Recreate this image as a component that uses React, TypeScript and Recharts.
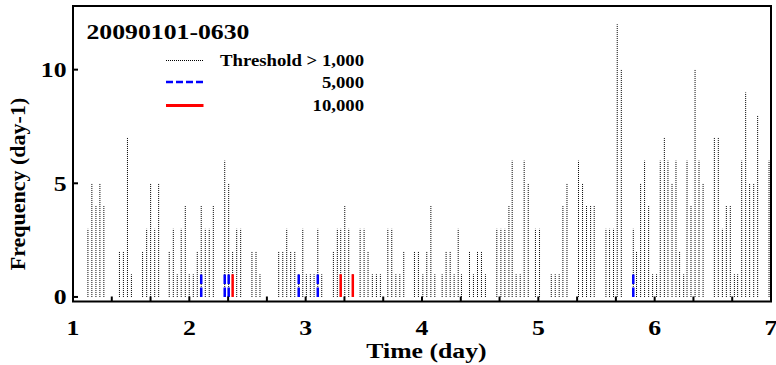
import React from "react";
import { ComposedChart, Bar, XAxis, YAxis, ReferenceArea } from "recharts";

// event times (day) and daily frequency above each threshold
const times1000 = [
  1.125, 1.159, 1.194, 1.228, 1.262,
  1.396, 1.43, 1.465, 1.499,
  1.595, 1.63, 1.664, 1.699, 1.733,
  1.824, 1.859, 1.893, 1.927, 1.962, 1.996, 2.031, 2.065, 2.099, 2.134, 2.168, 2.203,
  2.301, 2.335, 2.369, 2.404, 2.438,
  2.535, 2.57, 2.604,
  2.765, 2.8, 2.834, 2.868, 2.903, 2.937, 2.972, 3.003, 3.037, 3.069, 3.101, 3.135,
  3.235, 3.269, 3.298, 3.333, 3.367, 3.402,
  3.465, 3.499, 3.533, 3.57, 3.605, 3.639,
  3.703, 3.737, 3.772, 3.806, 3.84,
  3.932, 3.966, 4.004, 4.038, 4.073, 4.107,
  4.17, 4.204, 4.239, 4.273, 4.308, 4.336,
  4.405, 4.439, 4.474, 4.508, 4.542,
  4.64, 4.675, 4.709, 4.744, 4.772, 4.806, 4.841, 4.875, 4.91, 4.972, 5.007,
  5.108, 5.142, 5.176, 5.208, 5.243,
  5.342, 5.377, 5.411, 5.446, 5.477,
  5.578, 5.609, 5.643, 5.675, 5.71,
  5.813, 5.841, 5.876, 5.91, 5.945, 5.979, 6.013, 6.045, 6.08, 6.111, 6.146, 6.18,
  6.211, 6.246, 6.275, 6.309, 6.344, 6.378, 6.413,
  6.51, 6.544, 6.579, 6.613, 6.647, 6.682, 6.71, 6.745, 6.779, 6.813, 6.848, 6.882,
  6.98,
];
const freq1000 = [
  3, 5, 4, 5, 4,
  2, 2, 7, 1,
  2, 3, 5, 3, 5,
  2, 3, 1, 3, 4, 1, 1, 2, 4, 3, 3, 4,
  6, 5, 2, 3, 3,
  2, 2, 1,
  2, 2, 3, 2, 2, 1, 3, 1, 1, 1, 3, 1,
  2, 3, 3, 4, 3, 1,
  3, 3, 2, 1, 1, 1,
  3, 3, 1, 1, 2,
  2, 2, 1, 2, 4, 1,
  1, 2, 2, 1, 3, 1,
  2, 1, 2, 2, 1,
  3, 3, 3, 4, 6, 1, 1, 6, 5, 3, 3,
  1, 1, 1, 4, 5,
  6, 5, 4, 4, 4,
  3, 3, 3, 12, 10,
  3, 2, 5, 6, 4, 1, 1, 6, 7, 6, 5, 6,
  2, 1, 6, 4, 10, 6, 5,
  7, 7, 3, 4, 4, 1, 1, 6, 9, 5, 5, 8,
  6,
];
const times5000 = [2.099, 2.301, 2.335, 2.937, 3.101, 5.813];
const freq5000 = [1, 1, 1, 1, 1, 1];
const times10000 = [2.369, 3.298, 3.402];
const freq10000 = [1, 1, 1];

const xTicks = [
  1, 4 / 3, 5 / 3, 2, 7 / 3, 8 / 3, 3, 10 / 3, 11 / 3, 4, 13 / 3, 14 / 3,
  5, 16 / 3, 17 / 3, 6, 19 / 3, 20 / 3, 7,
];
const yTicks = [0, 5, 10];
const xDomain = [1, 7];
const yDomain = [-0.2, 12.8];

const title = "20090101-0630";
const legendLabels = ["Threshold > 1,000", "5,000", "10,000"];

const FONT = '"Liberation Serif", "Times New Roman", Times, serif';
const SX = 1.17; // the original lettering is a bit wide
const TICK = 5;

const rows = times1000.map((t, i) => {
  const j = times5000.indexOf(t);
  const k = times10000.indexOf(t);
  return {
    t,
    f1000: freq1000[i],
    f5000: j >= 0 ? freq5000[j] : null,
    f10000: k >= 0 ? freq10000[k] : null,
  };
});

// each event is drawn as a thin vertical stem instead of a filled bar
const stem = (color: string, sw: number, dash?: string) => (props: any) => {
  const { x, y, width, height } = props;
  if (!height || height <= 0) return <g />;
  const cx = x + width / 2;
  return (
    <line
      x1={cx}
      x2={cx}
      y1={y + height}
      y2={y}
      stroke={color}
      strokeWidth={sw}
      strokeDasharray={dash}
    />
  );
};

// inward tick marks are drawn here, next to the label
const XTick = (props: any) => {
  const { x, y, payload } = props;
  const v = payload.value;
  const isInt = Math.abs(v - Math.round(v)) < 1e-6;
  return (
    <g>
      <line x1={x} x2={x} y1={y} y2={y - TICK} stroke="#000" strokeWidth={2} />
      {isInt && (
        <text
          transform={`translate(${x},${y + 33}) scale(${SX},1)`}
          textAnchor="middle"
          fontFamily={FONT}
          fontWeight="bold"
          fontSize={22}
          fill="#000"
        >
          {Math.round(v)}
        </text>
      )}
    </g>
  );
};

const YTick = (props: any) => {
  const { x, y, payload } = props;
  return (
    <g>
      <line x1={x} x2={x + TICK} y1={y} y2={y} stroke="#000" strokeWidth={2} />
      <text
        transform={`translate(${x - 6.5},${y + 7.5}) scale(${SX},1)`}
        textAnchor="end"
        fontFamily={FONT}
        fontWeight="bold"
        fontSize={22}
        fill="#000"
      >
        {payload.value}
      </text>
    </g>
  );
};

const YTickRight = (props: any) => {
  const { x, y } = props;
  return <line x1={x} x2={x - TICK} y1={y} y2={y} stroke="#000" strokeWidth={2} />;
};

const txt = (x: number, y: number, s: string, size: number, anchor = "start") => (
  <text
    transform={`translate(${x},${y}) scale(${SX},1)`}
    textAnchor={anchor}
    fontFamily={FONT}
    fontWeight="bold"
    fontSize={size}
    fill="#000"
  >
    {s}
  </text>
);

export default function App() {
  return (
    <div style={{ position: "absolute", left: 0, top: 0, width: 776, height: 365, background: "#fff" }}>
      <ComposedChart
        width={776}
        height={365}
        data={rows}
        margin={{ top: 6, right: 5, bottom: 0, left: 0 }}
      >
        <XAxis
          xAxisId="main"
          dataKey="t"
          type="number"
          domain={xDomain}
          ticks={xTicks}
          interval={0}
          height={63.5}
          axisLine={false}
          tickLine={false}
          tickSize={0}
          tickMargin={0}
          tick={<XTick />}
        />
        <XAxis xAxisId="z5000" dataKey="t" type="number" domain={xDomain} height={0} hide />
        <XAxis xAxisId="z10000" dataKey="t" type="number" domain={xDomain} height={0} hide />
        <YAxis
          yAxisId="left"
          type="number"
          domain={yDomain}
          ticks={yTicks}
          interval={0}
          width={73}
          axisLine={false}
          tickLine={false}
          tickSize={0}
          tickMargin={0}
          tick={<YTick />}
        />
        <YAxis
          yAxisId="right"
          orientation="right"
          type="number"
          domain={yDomain}
          ticks={yTicks}
          interval={0}
          width={0}
          axisLine={false}
          tickLine={false}
          tickSize={0}
          tickMargin={0}
          tick={<YTickRight />}
        />
        <Bar
          xAxisId="main"
          yAxisId="left"
          dataKey="f1000"
          barSize={2}
          isAnimationActive={false}
          shape={stem("#000", 1, "1 1")}
        />
        <Bar
          xAxisId="z5000"
          yAxisId="left"
          dataKey="f5000"
          barSize={2}
          isAnimationActive={false}
          shape={stem("#0000ff", 2.5, "9.5 3.5")}
        />
        <Bar
          xAxisId="z10000"
          yAxisId="left"
          dataKey="f10000"
          barSize={2}
          isAnimationActive={false}
          shape={stem("#ff0000", 2.5)}
        />
        <ReferenceArea
          xAxisId="main"
          yAxisId="left"
          x1={xDomain[0]}
          x2={xDomain[1]}
          y1={yDomain[0]}
          y2={yDomain[1]}
          fill="none"
          stroke="#000"
          strokeWidth={2}
          ifOverflow="visible"
        />
      </ComposedChart>

      <svg
        width={776}
        height={365}
        style={{ position: "absolute", left: 0, top: 0, pointerEvents: "none" }}
      >
        {txt(86.5, 38.5, title, 22)}

        <line x1={166} x2={203} y1={60.5} y2={60.5} stroke="#000" strokeWidth={1} strokeDasharray="1 1" />
        <line x1={166} x2={203} y1={82} y2={82} stroke="#0000ff" strokeWidth={2.5} strokeDasharray="7 3" />
        <line x1={166} x2={203.5} y1={105.5} y2={105.5} stroke="#ff0000" strokeWidth={3} />
        {txt(364, 65.5, legendLabels[0], 16, "end")}
        {txt(364, 87.5, legendLabels[1], 16, "end")}
        {txt(364, 111, legendLabels[2], 16, "end")}

        {txt(426.5, 357.5, "Time (day)", 22, "middle")}
        <text
          transform="translate(25,184) rotate(-90)"
          textAnchor="middle"
          fontFamily={FONT}
          fontWeight="bold"
          fontSize={22}
          fill="#000"
        >
          Frequency (day-1)
        </text>
      </svg>
    </div>
  );
}
